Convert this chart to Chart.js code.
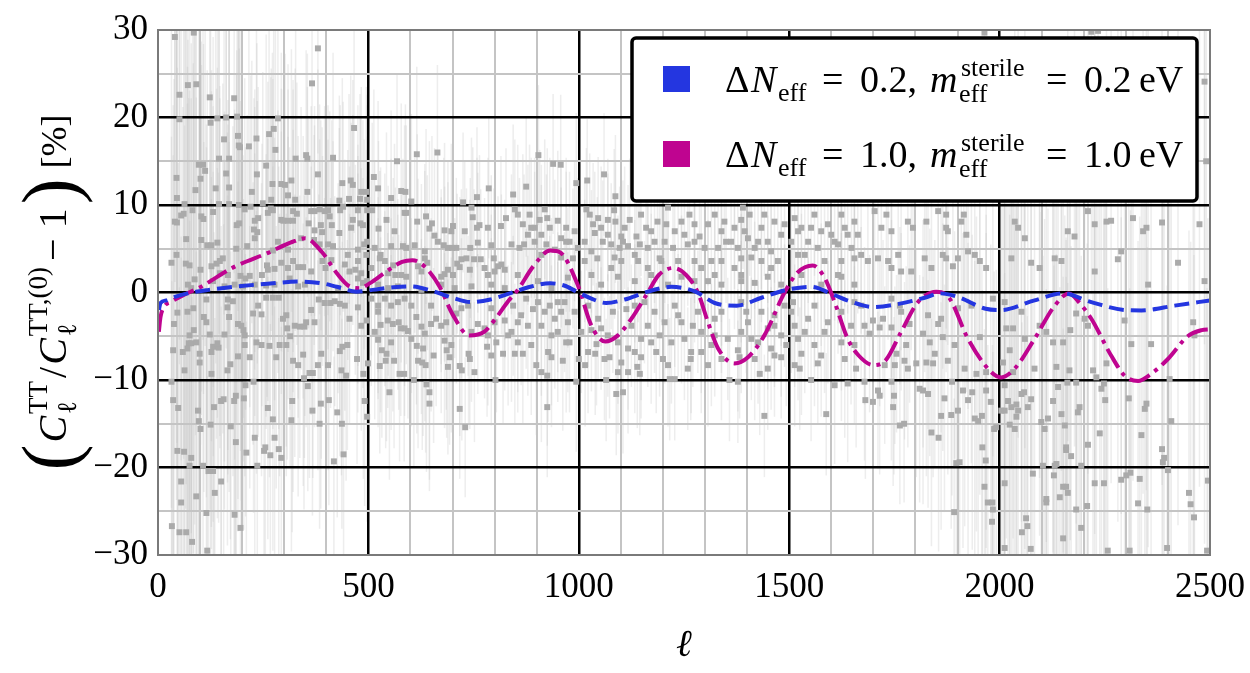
<!DOCTYPE html>
<html>
<head>
<meta charset="utf-8">
<script src="https://cdn.jsdelivr.net/npm/chart.js@4.4.1/dist/chart.umd.min.js"></script>
<style>
  html, body { margin: 0; padding: 0; background: #fff; }
</style>
</head>
<body>
<canvas id="chart" width="1250" height="673"></canvas>
<script>
// Model curves (percent residual vs multipole)
const blueEll = [2, 6, 20, 40, 70, 120, 180, 260, 337, 390, 425, 472, 510, 560, 600, 654, 700, 745, 790, 836, 880, 932, 965, 995, 1030, 1065, 1109, 1164, 1220, 1277, 1323, 1375, 1434, 1494, 1550, 1608, 1636, 1700, 1760, 1822, 1860, 1900, 1967, 2004, 2083, 2150, 2218, 2297, 2337, 2416, 2500];
const blueVals = [-2.0, -1.2, -0.9, -0.5, -0.1, 0.3, 0.65, 1.0, 1.25, 1.05, 0.65, 0.1, 0.3, 0.6, 0.7, 0.15, -0.6, -1.1, -0.8, -0.1, 0.6, 1.05, 0.8, 0.1, -0.7, -1.2, -0.8, 0.1, 0.65, 0.1, -1.2, -1.5, -0.6, 0.3, 0.65, -0.3, -0.86, -1.65, -1.3, -0.6, -0.1, -0.5, -1.85, -2.0, -0.9, -0.1, -1.1, -2.0, -2.05, -1.5, -0.9];

const magentaEll = [2, 6, 15, 30, 60, 100, 180, 260, 320, 350, 390, 425, 455, 478, 505, 540, 580, 605, 635, 670, 700, 740, 775, 805, 832, 855, 892, 932, 955, 998, 1030, 1063, 1093, 1125, 1164, 1190, 1225, 1255, 1283, 1307, 1331, 1370, 1402, 1441, 1489, 1520, 1556, 1585, 1608, 1639, 1665, 1700, 1730, 1765, 1806, 1850, 1880, 1925, 1980, 2004, 2036, 2083, 2131, 2165, 2190, 2218, 2265, 2297, 2329, 2360, 2400, 2447, 2480, 2500];
const magentaVals = [-4.5, -2.8, -1.6, -1.1, -0.3, 0.6, 2.9, 4.5, 5.8, 6.2, 4.6, 2.2, 0.7, 0.5, 1.1, 2.3, 3.5, 3.7, 2.9, 0.6, -2.5, -4.9, -4.5, -2.8, -1.0, 0.3, 3.0, 4.8, 4.6, 0.8, -3.8, -5.6, -4.9, -3.0, 0.0, 2.0, 2.8, 2.0, 0.0, -3.4, -6.4, -8.1, -7.4, -4.9, 0.0, 2.3, 3.1, 1.6, -1.1, -5.3, -7.2, -8.3, -7.7, -4.6, -1.1, 0.1, -0.6, -5.3, -9.1, -9.7, -8.7, -5.3, -1.5, -0.1, -1.2, -3.0, -7.2, -9.5, -10.1, -9.3, -7.6, -5.0, -4.3, -4.2];

// Measured residuals [ell, percent]
const residuals = [
  [40,29.2],[85,29.7],[380,27.9],[51,22.6],[71,23.7],[91,23.8],[123,22.3],[181,22.2],[366,23.9],[51,19.8],
  [125,19.4],[141,19.9],[162,20.0],[188,20.1],[285,19.9],[466,18.8],[157,17.5],[190,17.9],[192,16.8],[195,16.6],
  [216,16.7],[234,17.6],[264,18.1],[275,18.7],[279,16.3],[145,15.3],[169,15.3],[327,15.3],[352,15.7],[355,15.3],
  [416,15.4],[97,14.6],[107,14.6],[112,13.9],[257,14.5],[44,13.1],[101,13.0],[162,13.6],[235,13.5],[380,13.5],
  [615,15.8],[664,16.0],[568,15.0],[513,13.2],[89,11.7],[137,11.9],[169,12.0],[272,12.4],[293,12.4],[302,12.3],
  [317,12.8],[355,11.5],[438,12.5],[458,12.8],[463,12.3],[483,11.5],[495,11.5],[523,11.9],[578,11.6],[588,11.5],
  [786,11.9],[45,10.8],[63,10.1],[145,10.1],[169,10.1],[192,10.0],[223,11.5],[309,11.1],[326,10.6],[269,10.6],
  [431,10.5],[454,10.7],[480,10.7],[497,10.6],[554,10.8],[602,10.4],[758,10.9],[725,10.3],[745,9.7],[40,8.1],
  [45,8.0],[55,8.8],[61,9.0],[82,9.4],[103,8.7],[108,8.4],[131,9.2],[187,7.7],[193,7.9],[206,9.5],
  [220,9.8],[230,8.2],[238,8.5],[228,7.2],[236,6.9],[249,10.2],[261,9.1],[268,9.6],[273,9.4],[293,8.3],
  [298,8.2],[309,8.2],[321,8.2],[321,9.3],[330,9.0],[358,7.9],[364,9.3],[372,9.3],[384,9.5],[396,9.3],
  [404,9.4],[408,8.7],[372,7.1],[387,7.7],[413,7.7],[433,9.4],[440,9.8],[475,9.4],[463,8.3],[459,7.4],
  [481,7.9],[487,7.7],[497,9.4],[509,9.4],[524,7.3],[543,8.3],[562,7.0],[586,9.1],[590,9.1],[616,8.1],
  [637,8.7],[651,7.9],[645,7.3],[657,6.5],[681,7.1],[701,7.6],[697,7.0],[729,7.0],[748,8.6],[758,7.4],
  [764,7.7],[784,7.4],[815,7.6],[827,8.5],[67,6.1],[103,6.0],[117,5.4],[127,5.4],[141,5.7],[186,5.0],
  [212,5.3],[230,6.2],[285,5.8],[273,4.8],[309,4.9],[340,6.2],[371,6.0],[390,6.9],[384,5.5],[404,5.5],
  [416,5.3],[431,6.8],[451,4.3],[475,4.9],[490,5.5],[495,4.3],[497,5.8],[515,5.1],[529,4.3],[554,5.3],
  [582,5.3],[590,5.1],[610,5.4],[634,4.7],[665,5.8],[679,5.4],[689,5.1],[699,5.1],[709,5.1],[742,5.1],
  [760,5.7],[792,5.4],[32,3.4],[44,4.3],[66,3.3],[75,3.1],[101,2.6],[127,3.0],[139,3.3],[147,3.6],
  [154,3.9],[131,1.3],[147,2.2],[166,2.0],[196,1.9],[208,1.6],[218,1.9],[247,2.0],[259,3.1],[261,2.6],
  [277,2.7],[293,3.4],[309,2.8],[313,1.6],[321,3.6],[333,2.9],[345,2.9],[364,2.4],[391,3.6],[398,2.8],
  [412,3.7],[444,3.2],[455,2.4],[469,2.6],[475,3.6],[483,2.2],[475,1.6],[487,1.1],[497,1.3],[507,2.8],
  [527,3.9],[539,3.6],[547,2.2],[559,3.1],[564,2.0],[578,2.0],[590,1.8],[618,3.0],[626,2.4],[634,3.9],
  [640,3.4],[673,1.8],[681,2.1],[689,2.6],[701,2.0],[711,3.3],[717,2.9],[721,3.8],[733,3.9],[741,2.6],
  [751,3.8],[767,3.8],[776,2.8],[784,2.0],[800,2.4],[808,3.0],[816,3.2],[824,2.6],[798,3.9],[71,0.9],
  [79,0.5],[87,1.5],[158,0.7],[182,0.9],[202,0.7],[230,0.9],[257,0.8],[277,0.9],[333,0.7],[349,0.9],
  [428,0.5],[523,0.9],[547,0.5],[570,0.7],[626,0.3],[673,0.9],[705,0.5],[745,0.7],[792,0.9],[824,0.5],
  [904,15.7],[939,14.7],[957,14.6],[844,11.2],[875,12.1],[994,12.5],[1020,12.8],[1060,13.5],[1087,11.0],
  [855,8.9],[887,7.4],[879,6.6],[907,8.3],[919,9.5],[925,8.5],[931,7.4],[950,8.2],[970,7.4],[978,5.8],
  [840,5.5],[859,5.1],[870,5.5],[895,5.8],[911,4.3],[958,6.2],[986,3.9],[1018,9.5],[1034,7.8],[1046,8.5],
  [1053,7.4],[1069,6.6],[1084,9.4],[1087,8.1],[1101,6.4],[1105,5.8],[1117,5.3],[1014,5.8],[1030,4.7],[1044,3.9],
  [1077,5.5],[1077,2.8],[1101,3.6],[1133,4.3],[1148,8.9],[1160,7.4],[1172,7.0],[1187,8.1],[1204,5.8],[1212,9.7],
  [1228,7.0],[1244,8.1],[1259,5.5],[1275,7.8],[1287,6.4],[1141,3.6],[1164,2.8],[1192,3.9],[1275,3.6],[1291,2.8],
  [1307,7.8],[1323,8.9],[1339,7.0],[1350,5.8],[1370,7.4],[1386,8.3],[1390,9.7],[1406,8.9],[1402,6.2],[1418,5.1],
  [1434,7.4],[1449,5.8],[1465,8.1],[1481,6.6],[1339,3.6],[1370,2.8],[1386,3.9],[1434,3.6],[1457,2.8],[1323,2.0],
  [1307,1.3],[1386,1.3],[1513,8.5],[1529,7.4],[1545,5.8],[1560,8.9],[1576,7.0],[1592,7.8],[1608,5.8],[1624,8.9],
  [1639,6.6],[1655,8.1],[1521,4.3],[1624,3.6],[1655,3.9],[1616,2.0],
  [848,9.5],[867,7.8],[883,8.9],[895,7.4],[911,6.6],[923,5.5],[943,4.9],[958,4.0],[970,5.8],[990,7.0],
  [998,5.1],[1014,3.6],[1026,8.9],[1038,6.8],[1057,5.8],[1069,8.3],[1085,4.0],[1097,5.1],[1109,7.4],[1121,8.3],
  [1137,6.4],[1145,5.5],[1164,5.1],[1180,5.8],[1196,3.6],[1208,7.8],[1224,5.1],[1236,3.6],[1251,6.6],[1263,8.9],
  [1275,5.8],[1299,5.1],[1315,3.6],[1331,5.1],[1346,8.1],[1362,5.8],[1378,5.1],[1394,7.0],[1410,4.0],[1426,5.8],
  [1441,8.9],[1457,4.7],[1473,3.6],[1489,7.8],[1505,5.8],[1521,7.0],[1537,4.3],[1552,7.4],[1568,5.1],[1584,3.6],
  [1600,6.6],[1616,5.5],[1632,7.4],[1648,5.1],[1663,6.6],
  [855,2.0],[903,1.3],[935,0.5],[974,1.7],[1030,2.0],[1053,0.9],[1093,1.8],[1133,1.3],[1172,2.0],[1212,0.9],
  [1244,1.8],[1275,1.3],[1339,0.9],[1386,2.0],[1418,1.1],[1449,1.8],[1481,0.9],[1529,2.0],[1576,0.9],[1624,1.8],
  [1655,0.9],
  [1964,29.7],[2218,29.8],[2234,29.9],[2487,24.1],[2491,15.0],
  [1703,9.3],[1731,8.9],[1719,7.4],[1743,7.0],[1782,8.1],[1794,7.4],[1826,8.1],[1854,9.3],[1873,8.9],[1873,7.4],
  [1877,7.0],[1915,8.9],[1921,6.6],[1909,8.1],[1671,4.3],[1687,3.6],[1711,3.9],[1735,3.6],[1743,2.8],[1759,4.3],
  [1766,2.4],[1790,2.4],[1822,3.9],[1838,2.8],[1865,4.3],[1873,3.9],[1889,3.0],[1901,3.9],[1925,4.7],[1941,4.3],
  [1953,3.6],[1968,2.8],[2036,8.1],[2044,7.4],[2060,6.2],[2162,7.0],[2178,6.4],[2210,9.3],[2226,7.8],[2254,8.1],
  [2265,8.2],[2317,8.5],[2341,7.0],[2349,7.4],[2386,8.0],[2475,7.8],[2028,3.9],[2075,3.4],[2095,2.8],[2131,3.9],
  [2147,3.6],[2226,2.4],[2281,3.8],[2289,4.7],[2353,0.9],[2424,3.4],[2487,1.3],
  [38,-3.6],[46,-2.3],[70,-2.2],[84,-1.8],[115,-0.8],[109,-2.8],[115,-3.4],[85,-4.3],[75,-4.9],[73,-5.8],
  [79,-5.8],[91,-5.7],[70,-6.4],[99,-7.0],[123,-4.8],[131,-6.2],[127,-6.8],[144,-6.3],[141,-5.8],[158,-4.8],
  [169,-2.8],[165,-1.7],[166,-0.8],[178,-1.0],[190,-3.6],[198,-3.8],[203,-4.3],[206,-6.0],[218,-7.4],[226,-2.4],
  [238,-1.5],[246,-2.5],[257,-0.6],[273,-0.6],[287,-0.6],[297,-3.0],[305,-2.6],[307,-4.1],[314,-5.0],[325,-3.8],
  [337,-3.9],[348,-3.9],[352,-3.4],[364,-2.0],[372,-3.4],[382,-0.8],[396,-1.2],[410,-1.2],[420,-1.0],[432,-1.3],
  [444,-1.5],[455,-3.0],[475,-1.7],[483,-3.8],[496,-3.2],[36,-6.6],[59,-6.8],[99,-8.0],[63,-8.9],[32,-10.2],
  [127,-9.3],[190,-7.3],[172,-8.2],[165,-8.9],[206,-4.9],[234,-5.7],[246,-6.0],[265,-6.1],[281,-7.4],[289,-6.0],
  [305,-6.0],[321,-7.8],[333,-8.3],[345,-7.1],[360,-9.2],[368,-9.2],[388,-7.0],[380,-8.3],[404,-8.3],[432,-6.7],
  [438,-6.2],[450,-6.0],[447,-9.5],[436,-8.9],[473,-7.6],[499,-8.1],[488,-9.3],[36,-12.3],[48,-13.2],[95,-13.5],
  [97,-14.7],[101,-15.6],[125,-15.1],[133,-13.1],[150,-12.4],[156,-12.2],[173,-15.3],[181,-12.4],[185,-11.8],[204,-12.1],
  [208,-10.6],[227,-10.2],[185,-17.1],[210,-18.3],[230,-16.6],[236,-19.8],[255,-17.7],[252,-18.1],[267,-18.6],[273,-14.5],
  [261,-13.2],[277,-16.6],[287,-17.9],[293,-18.9],[317,-14.6],[319,-12.4],[347,-9.8],[356,-10.7],[367,-13.5],[384,-15.0],
  [387,-12.7],[406,-12.3],[418,-19.3],[426,-13.7],[437,-15.0],[441,-18.5],[491,-12.4],[497,-14.2],[46,-18.1],[62,-18.2],
  [79,-18.9],[75,-19.8],[107,-19.8],[120,-20.4],[131,-20.4],[55,-21.6],[150,-21.6],[91,-23.3],[135,-22.9],[55,-24.0],
  [115,-25.2],[182,-25.4],[33,-26.7],[51,-27.4],[67,-27.4],[196,-26.9],[81,-28.5],[117,-29.5],
  [507,-0.7],[523,-1.5],[539,-0.7],[554,-1.5],[570,-1.1],[586,-0.7],[602,-1.5],[523,-2.2],[529,-3.7],[546,-3.2],
  [558,-3.6],[572,-3.4],[586,-4.1],[594,-4.4],[577,-4.1],[614,-2.8],[626,-3.9],[634,-4.7],[661,-3.0],[649,-3.6],
  [673,-3.8],[685,-3.4],[709,-2.4],[721,-1.8],[737,-1.5],[760,-3.6],[776,-4.1],[784,-4.9],[800,-3.4],[824,-3.2],
  [523,-5.4],[532,-6.6],[543,-7.0],[541,-7.8],[527,-8.4],[561,-7.8],[574,-9.3],[585,-9.3],[615,-6.1],[618,-7.8],
  [630,-6.4],[628,-8.0],[636,-8.3],[655,-7.2],[681,-5.5],[686,-6.6],[693,-7.4],[689,-8.5],[717,-8.4],[722,-8.9],
  [738,-7.0],[741,-7.6],[752,-9.1],[782,-6.2],[792,-7.2],[804,-5.7],[820,-7.0],[550,-11.4],[608,-10.0],[638,-10.5],
  [645,-11.4],[645,-12.7],[717,-13.3],[730,-15.4],[802,-10.0],
  [515,-4.5],[554,-5.7],[602,-5.3],[649,-1.5],[697,-6.0],[745,-4.5],[792,-1.8],[832,-4.9],
  [844,-1.5],[863,-2.6],[875,-0.7],[879,-3.8],[855,-5.7],[867,-7.0],[848,-7.0],[887,-6.0],[903,-1.1],[911,-3.8],
  [919,-2.2],[931,-1.5],[943,-3.0],[935,-4.9],[950,-4.5],[958,-2.2],[966,-1.1],[974,-3.4],[978,-5.7],[935,-7.4],
  [962,-7.8],[911,-9.1],[925,-9.5],[899,-8.3],[994,-10.2],[925,-13.1],[1000,-7.6],[1022,-6.8],[1015,-8.3],[1039,-7.0],
  [1053,-4.1],[1069,-4.9],[1073,-7.4],[1042,-5.9],[1030,-4.3],[1089,-11.6],[1105,-11.4],[1101,-8.0],[1093,-9.1],[1117,-9.1],
  [1065,-10.0],[1133,-6.8],[1139,-8.5],[1145,-9.3],[1148,-7.4],[1117,-6.4],[1125,-3.8],[1148,-5.3],[1133,-1.5],[1156,-1.1],
  [1172,-5.7],[1180,-2.2],[1200,-7.6],[1212,-8.3],[1216,-9.9],[1228,-9.9],[1192,-4.9],[1204,-3.4],[1228,-1.5],[1244,-3.4],
  [1251,-5.3],[1267,-6.8],[1266,-7.6],[1271,-3.8],[1283,-2.2],[1291,-4.5],[1307,-8.3],[1315,-6.0],[1323,-4.9],[1339,-2.2],
  [1354,-5.3],[1358,-10.0],[1378,-6.6],[1382,-7.4],[1378,-10.2],[1386,-1.1],[1402,-3.4],[1410,-5.3],[1418,-7.6],[1430,-9.3],
  [1441,-14.1],[1434,-2.2],[1449,-4.1],[1457,-6.4],[1465,-7.2],[1481,-7.4],[1493,-6.0],[1465,-2.6],[1481,-4.9],[1489,-1.5],
  [1509,-1.1],[1513,-3.8],[1521,-5.3],[1529,-7.0],[1513,-8.3],[1525,-8.7],[1545,-3.0],[1552,-10.0],[1560,-6.0],[1568,-8.1],
  [1584,-4.5],[1588,-13.9],[1608,-10.6],[1632,-7.6],[1639,-10.4],[1655,-6.0],[1624,-2.2],[1655,-1.1],
  [840,-4.5],[855,-3.4],[891,-1.9],[927,-6.8],[950,-1.1],[970,-5.7],[990,-2.2],[1006,-4.5],[1022,-1.5],[1046,-3.0],
  [1061,-7.6],[1081,-2.2],[1093,-5.7],[1113,-1.9],[1164,-3.8],[1184,-6.8],[1220,-5.7],[1236,-2.6],[1259,-8.7],[1291,-6.8],
  [1323,-3.0],[1339,-7.6],[1386,-4.5],[1398,-2.2],[1426,-5.7],[1449,-8.7],[1465,-3.8],[1505,-2.2],[1537,-4.5],[1560,-1.5],
  [1576,-7.2],[1592,-3.4],[1624,-5.7],[1647,-3.8],[1659,-8.7],
  [1671,-1.5],[1679,-3.8],[1691,-4.7],[1699,-3.2],[1715,-4.0],[1723,-3.0],[1727,-8.3],[1743,-0.7],[1743,-4.0],[1755,-7.0],
  [1751,-8.3],[1763,-1.5],[1766,-2.2],[1778,-6.0],[1774,-7.8],[1782,-8.7],[1786,-3.6],[1802,-8.1],[1818,-4.7],[1826,-8.0],
  [1834,-5.7],[1842,-8.1],[1846,-7.0],[1830,-2.6],[1854,-3.6],[1861,-3.0],[1865,-5.1],[1877,-7.8],[1893,-6.0],[1901,-1.8],
  [1917,-8.7],[1933,-1.5],[1945,-9.3],[1953,-5.1],[1968,-9.1],[1984,-0.7],[2012,-1.1],[2016,-4.1],[2032,-4.1],[2024,-6.6],
  [2008,-8.0],[2032,-9.1],[2052,-2.2],[2060,-5.3],[2083,-8.7],[2095,-3.8],[2111,-4.5],[2127,-5.7],[2135,-8.5],[2151,-5.7],
  [2166,-8.9],[2168,-4.3],[2182,-2.4],[2202,-3.0],[2210,-3.8],[2222,-8.9],[2230,-9.7],[2254,-8.1],[2297,-3.2],[2313,-5.9],
  [2360,-5.9],[2404,-9.9],[2460,-3.4],[2463,-4.9],[1679,-10.2],[1711,-11.2],[1715,-11.8],[1681,-12.3],[1699,-12.5],[1747,-13.1],
  [1749,-11.8],[1743,-10.2],[1763,-15.2],[1773,-15.0],[1810,-11.0],[1818,-11.2],[1830,-11.6],[1838,-16.0],[1855,-16.6],[1861,-14.1],
  [1869,-12.1],[1885,-14.0],[1901,-13.5],[1887,-10.2],[1913,-11.2],[1925,-12.3],[1935,-11.4],[1941,-14.4],[1949,-14.7],[1958,-14.1],
  [1968,-11.2],[1979,-12.5],[1987,-15.6],[1992,-15.4],[1959,-17.7],[1967,-19.2],[1897,-19.5],[1905,-19.4],[1964,-22.2],[1972,-24.0],
  [1983,-24.0],[1984,-24.8],[1982,-26.2],[1892,-25.1],[2012,-10.6],[2012,-13.5],[2004,-13.5],[2020,-12.4],[2028,-13.1],[2040,-12.8],
  [2044,-13.5],[2040,-14.2],[2052,-11.6],[2058,-11.4],[2075,-12.2],[2024,-15.1],[2036,-15.6],[2067,-13.1],[2099,-14.8],[2107,-15.6],
  [2115,-14.4],[2127,-12.4],[2139,-10.8],[2147,-13.9],[2155,-15.2],[2158,-17.7],[2158,-18.0],[2170,-18.7],[2161,-10.3],[2182,-10.3],
  [2190,-13.1],[2186,-13.7],[2210,-17.4],[2238,-16.1],[2242,-11.0],[2248,-10.4],[2251,-12.3],[2307,-12.1],[2349,-12.7],[2345,-13.3],
  [2337,-16.3],[2386,-17.9],[2391,-18.9],[2388,-19.4],[2400,-20.3],[2408,-14.7],[2012,-21.8],[2079,-20.7],[2129,-20.9],[2135,-19.6],
  [2131,-19.8],[2151,-22.2],[2158,-22.2],[2162,-22.9],[2143,-23.4],[2111,-23.6],[2111,-24.0],[2103,-19.8],[2182,-24.8],[2194,-19.8],
  [2208,-24.4],[2226,-21.8],[2248,-21.8],[2289,-21.4],[2301,-20.9],[2311,-20.6],[2333,-21.3],[2329,-24.1],[2351,-24.8],[2450,-22.9],
  [2454,-24.2],[2462,-25.7],[2495,-21.5],[2063,-25.8],[2066,-26.7],[2053,-27.4],[2151,-28.1],[2194,-26.9],[2012,-29.2],[2074,-29.3],
  [2257,-29.5],[2309,-29.5],[2398,-29.2],[2493,-29.5]
];

// Typical error-bar half length (percent) by multipole band, read from the grey haze
const errBandTop = [30, 100, 200, 350, 500, 700, 1000, 1600, 1800, 1900, 2000, 2200, 2501];
const errBandSigma = [45, 28, 20, 15, 12, 10, 8, 7, 9, 13, 18, 24, 30];

const blueColor = '#2436e0';
const magentaColor = '#bf0490';
const serif = "'Liberation Serif', 'DejaVu Serif', serif";

function sigmaFor(ell) {
    for (let i = 0; i < errBandTop.length; i++) {
        if (ell < errBandTop[i]) return errBandSigma[i];
    }
    return errBandSigma[errBandSigma.length - 1];
}

function fmtTick(v) {
    return v < 0 ? '\u2212' + (-v) : String(v);
}

// Draw a sequence of text pieces, with stacked super/subscripts
function runWidth(ctx, r) {
    if (r.sup !== undefined || r.sub !== undefined) {
        ctx.font = r.sfont;
        const a = r.sup ? ctx.measureText(r.sup).width : 0;
        const b = r.sub ? ctx.measureText(r.sub).width : 0;
        return Math.max(a, b) + (r.pad || 0);
    }
    ctx.font = r.font;
    return ctx.measureText(r.t).width + (r.pad || 0);
}

function drawRuns(ctx, runs, x, y) {
    runs.forEach(function(r) {
        const w = runWidth(ctx, r);
        if (r.sup !== undefined || r.sub !== undefined) {
            ctx.font = r.sfont;
            if (r.sup) ctx.fillText(r.sup, x, y + r.supDy);
            if (r.sub) ctx.fillText(r.sub, x + (r.subDx || 0), y + r.subDy);
        } else {
            ctx.font = r.font;
            ctx.fillText(r.t, x, y + (r.dy || 0));
        }
        x += w;
    });
    return x;
}

function totalWidth(ctx, runs) {
    return runs.reduce((s, r) => s + runWidth(ctx, r), 0);
}

// Grey error-bar haze under the grid
const errorHaze = {
    id: 'errorHaze',
    beforeDraw(chart) {
        const { ctx, chartArea: a, scales: { x, y } } = chart;
        ctx.save();
        ctx.beginPath();
        ctx.rect(a.left, a.top, a.right - a.left, a.bottom - a.top);
        ctx.clip();
        ctx.strokeStyle = 'rgba(190,190,190,0.28)';
        ctx.lineWidth = 1.5;
        residuals.forEach(function(p) {
            const s = sigmaFor(p[0]);
            const px = x.getPixelForValue(p[0]);
            ctx.beginPath();
            ctx.moveTo(px, y.getPixelForValue(p[1] + s));
            ctx.lineTo(px, y.getPixelForValue(p[1] - s));
            ctx.stroke();
        });
        ctx.restore();
    }
};

// Frame, axis titles and legend box
const decorations = {
    id: 'decorations',
    afterDraw(chart) {
        const { ctx, chartArea: a } = chart;
        ctx.save();
        ctx.strokeStyle = '#7a7a7a';
        ctx.lineWidth = 2;
        ctx.strokeRect(a.left, a.top, a.right - a.left, a.bottom - a.top);

        ctx.fillStyle = '#000';
        ctx.textBaseline = 'alphabetic';

        // x title
        ctx.font = 'italic 38px ' + serif;
        ctx.textAlign = 'center';
        ctx.fillText('\u2113', (a.left + a.right) / 2, 656);
        ctx.textAlign = 'left';

        // y title, rotated
        const mainF = '40px ' + serif;
        const itF = 'italic 40px ' + serif;
        const scF = '27px ' + serif;
        const bigF = '78px ' + serif;
        const yRuns = [
            { t: '(', font: bigF, dy: 10, pad: 2 },
            { t: 'C', font: itF, pad: 2 },
            { sup: 'TT', sub: '\u2113', sfont: scF, supDy: -19, subDy: 10, pad: 3 },
            { t: '/', font: mainF, pad: 2 },
            { t: 'C', font: itF, pad: 2 },
            { sup: 'TT,(0)', sub: '\u2113', sfont: scF, supDy: -19, subDy: 10, pad: 6 },
            { t: '\u2212 1', font: mainF, pad: 4 },
            { t: ')', font: bigF, dy: 10, pad: 10 },
            { t: '[%]', font: '36px ' + serif }
        ];
        ctx.save();
        ctx.translate(66, (a.top + a.bottom) / 2);
        ctx.rotate(-Math.PI / 2);
        const yw = totalWidth(ctx, yRuns);
        drawRuns(ctx, yRuns, -yw / 2, 0);
        ctx.restore();

        // legend
        const lx = 632, ly = 38, lw = 565, lh = 163;
        ctx.beginPath();
        ctx.roundRect(lx, ly, lw, lh, 4);
        ctx.fillStyle = '#fff';
        ctx.fill();
        ctx.lineWidth = 3.5;
        ctx.strokeStyle = '#000';
        ctx.stroke();

        const lf = '38px ' + serif;
        const li = 'italic 38px ' + serif;
        const ls = '26px ' + serif;
        const entries = [
            { color: blueColor, val: '0.2', base: 92 },
            { color: magentaColor, val: '1.0', base: 167 }
        ];
        entries.forEach(function(e) {
            ctx.fillStyle = e.color;
            ctx.fillRect(663, e.base - 26, 27, 26);
            ctx.fillStyle = '#000';
            // pieces placed with TeX-like math spacing
            const pieces = [
                { t: '\u0394', f: lf, x: 725, dy: 0 },
                { t: 'N', f: li, x: 751, dy: 0 },
                { t: 'eff', f: ls, x: 778, dy: 9 },
                { t: '=', f: lf, x: 822, dy: 0 },
                { t: e.val + ',', f: lf, x: 860, dy: 0 },
                { t: 'm', f: li, x: 930, dy: 0 },
                { t: 'sterile', f: ls, x: 961, dy: -16 },
                { t: 'eff', f: ls, x: 959, dy: 10 },
                { t: '=', f: lf, x: 1046, dy: 0 },
                { t: e.val, f: lf, x: 1084, dy: 0 },
                { t: 'eV', f: lf, x: 1139, dy: 0 }
            ];
            pieces.forEach(function(p) {
                ctx.font = p.f;
                ctx.fillText(p.t, p.x, e.base + p.dy);
            });
        });
        ctx.restore();
    }
};

document.addEventListener('DOMContentLoaded', function() {
    const ctx = document.getElementById('chart').getContext('2d');

    new Chart(ctx, {
        type: 'scatter',
        data: {
            datasets: [
                {
                    type: 'line',
                    label: 'dNeff 0.2',
                    data: blueEll.map((x, i) => ({ x: x, y: blueVals[i] })),
                    borderColor: blueColor,
                    borderWidth: 4,
                    borderDash: [15, 7],
                    pointRadius: 0,
                    fill: false,
                    cubicInterpolationMode: 'monotone'
                },
                {
                    type: 'line',
                    label: 'dNeff 1.0',
                    data: magentaEll.map((x, i) => ({ x: x, y: magentaVals[i] })),
                    borderColor: magentaColor,
                    borderWidth: 4,
                    borderDash: [22, 6, 4, 6],
                    pointRadius: 0,
                    fill: false,
                    cubicInterpolationMode: 'monotone'
                },
                {
                    type: 'scatter',
                    label: 'data',
                    data: residuals.map(p => ({ x: p[0], y: p[1] })),
                    pointStyle: 'rect',
                    pointRadius: 4.2,
                    backgroundColor: '#aaaaaa',
                    borderWidth: 0
                }
            ]
        },
        options: {
            responsive: false,
            animation: false,
            layout: { padding: { left: 0, right: 40, top: 30, bottom: 0 } },
            plugins: {
                legend: { display: false },
                tooltip: { enabled: false }
            },
            scales: {
                x: {
                    type: 'linear',
                    min: 0,
                    max: 2500,
                    afterFit: function(scale) {
                        scale.height = 118;
                        scale.paddingLeft = 0;
                        scale.paddingRight = 0;
                    },
                    border: { display: false },
                    grid: {
                        drawTicks: false,
                        color: function(c) {
                            const v = c.tick.value;
                            if (v === 0 || v === 2500) return 'rgba(0,0,0,0)';
                            return v % 500 === 0 ? '#000' : '#c4c4c4';
                        },
                        lineWidth: function(c) {
                            return c.tick.value % 500 === 0 ? 2.5 : 2;
                        }
                    },
                    ticks: {
                        stepSize: 100,
                        autoSkip: false,
                        maxRotation: 0,
                        padding: 12,
                        color: '#000',
                        font: { family: serif, size: 35 },
                        callback: v => (v % 500 === 0 ? String(v) : '')
                    }
                },
                y: {
                    min: -30,
                    max: 30,
                    afterFit: function(scale) {
                        scale.width = 158;
                        scale.paddingTop = 0;
                        scale.paddingBottom = 0;
                    },
                    border: { display: false },
                    grid: {
                        drawTicks: false,
                        color: function(c) {
                            const v = c.tick.value;
                            if (v === -30 || v === 30) return 'rgba(0,0,0,0)';
                            return v % 10 === 0 ? '#000' : '#c4c4c4';
                        },
                        lineWidth: function(c) {
                            return c.tick.value % 10 === 0 ? 2.5 : 2;
                        }
                    },
                    ticks: {
                        stepSize: 5,
                        autoSkip: false,
                        padding: 10,
                        color: '#000',
                        font: { family: serif, size: 35 },
                        callback: v => (v % 10 === 0 ? fmtTick(v) : '')
                    }
                }
            }
        },
        plugins: [errorHaze, decorations]
    });
});
</script>
</body>
</html>
